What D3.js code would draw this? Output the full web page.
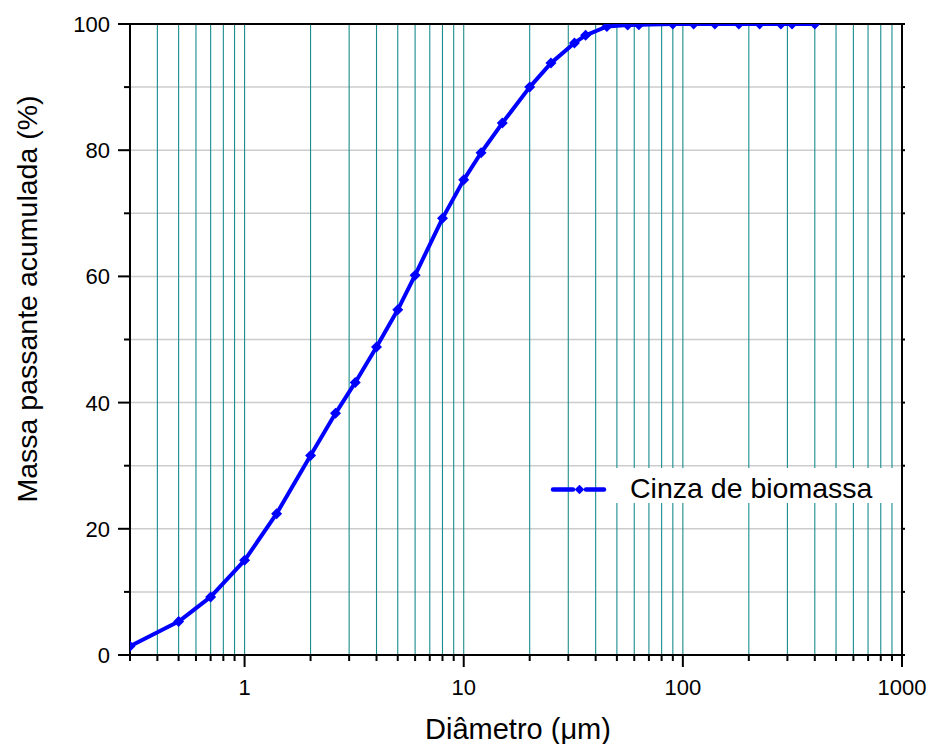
<!DOCTYPE html>
<html>
<head>
<meta charset="utf-8">
<script src="https://cdn.jsdelivr.net/npm/d3@7"></script>
<style>
  html, body { margin: 0; padding: 0; background: #fff; }
  svg { display: block; }
  text { font-family: "Liberation Sans", Arial, sans-serif; fill: #000; }
</style>
</head>
<body>
<svg id="chart" width="929" height="744"></svg>
<script>
// ---- Data ----
const diameters = [0.3, 0.5, 0.7, 1, 1.4, 2, 2.6, 3.2, 4, 5, 6, 8, 10, 12, 15, 20, 25, 32, 36, 45, 56, 63, 90, 112, 140, 180, 224, 280, 315, 400];
const passing   = [1.4, 5.3, 9.2, 15.0, 22.4, 31.6, 38.3, 43.2, 48.8, 54.7, 60.2, 69.2, 75.3, 79.6, 84.3, 90.0, 93.8, 97.0, 98.2, 99.6, 99.85, 99.9, 100, 100, 100, 100, 100, 100, 100, 100];
const seriesName = "Cinza de biomassa";
const xDomain = [0.3, 1000];
const yDomain = [0, 100];
const xLabelTicks = [1, 10, 100, 1000];
const yLabelTicks = [0, 20, 40, 60, 80, 100];
const yMinorTicks = [10, 30, 50, 70, 90];
const xTitle = "Diâmetro (μm)";
const yTitle = "Massa passante acumulada (%)";

// ---- Layout ----
const L = 130, R = 902, T = 24, B = 655;
const svg = d3.select("#chart");
const x = d3.scaleLog().domain(xDomain).range([L, R]);
const y = d3.scaleLinear().domain(yDomain).range([B, T]);
const allXTicks = x.ticks(); // 0.3, 0.4, ... 1000

// Horizontal grid (every 10)
const yGrid = d3.range(10, 100, 10);
svg.append("g").selectAll("line").data(yGrid).join("line")
  .attr("x1", L).attr("x2", R)
  .attr("y1", d => y(d)).attr("y2", d => y(d))
  .attr("stroke", "#cccccc").attr("stroke-width", 1.5);

// Vertical grid (log minors)
svg.append("g").selectAll("line")
  .data(allXTicks.filter(d => d > xDomain[0] * 1.0001 && d < xDomain[1] * 0.9999))
  .join("line")
  .attr("x1", d => x(d)).attr("x2", d => x(d))
  .attr("y1", T).attr("y2", B)
  .attr("stroke", "#1a8c8c").attr("stroke-width", 1.1);

// Legend background (covers grid)
svg.append("rect")
  .attr("x", 606).attr("y", 468).attr("width", 293).attr("height", 35)
  .attr("fill", "#fff");

// Axes frame
const frame = svg.append("g").attr("stroke", "#000").attr("stroke-width", 2).attr("fill", "none");
frame.append("line").attr("x1", L).attr("x2", R).attr("y1", B).attr("y2", B);
frame.append("line").attr("x1", L).attr("x2", R).attr("y1", T).attr("y2", T);
frame.append("line").attr("x1", L).attr("x2", L).attr("y1", T - 1).attr("y2", B + 1);
frame.append("line").attr("x1", R).attr("x2", R).attr("y1", T - 1).attr("y2", B + 1);

// Bottom ticks
const isMajorX = d => xLabelTicks.some(m => Math.abs(m - d) / m < 1e-6);
svg.append("g").selectAll("line").data(allXTicks).join("line")
  .attr("x1", d => x(d)).attr("x2", d => x(d))
  .attr("y1", B).attr("y2", d => B + (isMajorX(d) ? 12 : 6))
  .attr("stroke", "#000").attr("stroke-width", 2);

svg.append("g").selectAll("text").data(xLabelTicks).join("text")
  .attr("x", d => x(d)).attr("y", 695)
  .attr("text-anchor", "middle")
  .attr("font-size", 22)
  .text(d => d3.format("d")(d));

// Left ticks
svg.append("g").selectAll("line").data(yLabelTicks).join("line")
  .attr("x1", L - 12).attr("x2", L)
  .attr("y1", d => y(d)).attr("y2", d => y(d))
  .attr("stroke", "#000").attr("stroke-width", 2);
svg.append("g").selectAll("line").data(yMinorTicks).join("line")
  .attr("x1", L - 6).attr("x2", L)
  .attr("y1", d => y(d)).attr("y2", d => y(d))
  .attr("stroke", "#000").attr("stroke-width", 2);
// Right small ticks
svg.append("g").selectAll("line").data(yLabelTicks.concat(yMinorTicks)).join("line")
  .attr("x1", R).attr("x2", R + 3)
  .attr("y1", d => y(d)).attr("y2", d => y(d))
  .attr("stroke", "#000").attr("stroke-width", 2);

svg.append("g").selectAll("text").data(yLabelTicks).join("text")
  .attr("x", 110).attr("y", d => y(d))
  .attr("dy", "0.36em")
  .attr("text-anchor", "end")
  .attr("font-size", 22)
  .text(d => d);

// Axis titles
svg.append("text")
  .attr("x", 518).attr("y", 739)
  .attr("text-anchor", "middle")
  .attr("font-size", 29)
  .text(xTitle);

svg.append("text")
  .attr("transform", "translate(37,299) rotate(-90)")
  .attr("text-anchor", "middle")
  .attr("font-size", 28.5)
  .text(yTitle);

// Data (clipped to plot area)
svg.append("clipPath").attr("id", "plotclip")
  .append("rect").attr("x", L).attr("y", T).attr("width", R - L).attr("height", B - T);

const pts = diameters.map((d, i) => [d, passing[i]]);
const dataG = svg.append("g").attr("clip-path", "url(#plotclip)");
dataG.append("path")
  .datum(pts)
  .attr("fill", "none")
  .attr("stroke", "#0000ff")
  .attr("stroke-width", 4)
  .attr("stroke-linejoin", "round")
  .attr("d", d3.line().x(d => x(d[0])).y(d => y(d[1])));

const diamond = s => `M0,${-s}L${s},0L0,${s}L${-s},0Z`;
dataG.selectAll("path.mk").data(pts).join("path")
  .attr("class", "mk")
  .attr("transform", d => `translate(${x(d[0])},${y(d[1])})`)
  .attr("d", diamond(5.5))
  .attr("fill", "#0000ff");

// Legend
const lg = svg.append("g");
lg.append("line").attr("x1", 553).attr("x2", 573).attr("y1", 489.5).attr("y2", 489.5)
  .attr("stroke", "#0000ff").attr("stroke-width", 4.5).attr("stroke-linecap", "round");
lg.append("line").attr("x1", 586).attr("x2", 604).attr("y1", 489.5).attr("y2", 489.5)
  .attr("stroke", "#0000ff").attr("stroke-width", 4.5).attr("stroke-linecap", "round");
lg.append("path").attr("transform", "translate(579.5,489.5)").attr("d", diamond(4.8)).attr("fill", "#0000ff");
lg.append("text").attr("x", 630).attr("y", 497.5).attr("font-size", 28.5).text(seriesName);
</script>
</body>
</html>
